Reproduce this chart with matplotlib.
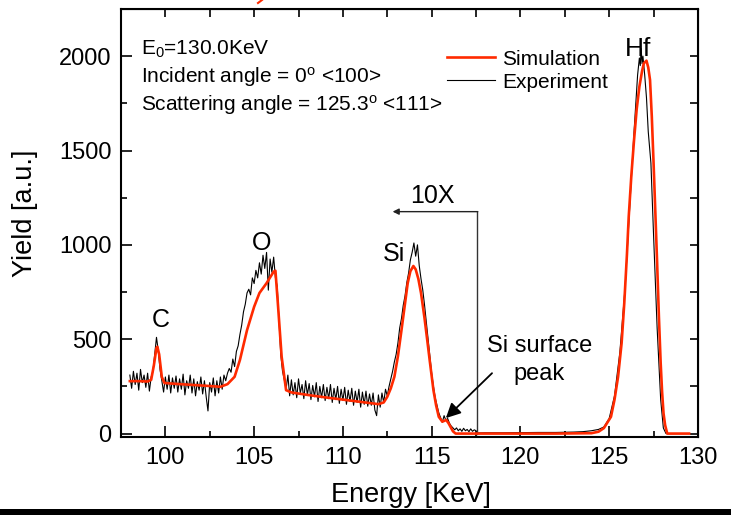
import numpy as np
import matplotlib
matplotlib.use("Agg")
import matplotlib.pyplot as plt
from matplotlib.lines import Line2D
from matplotlib.patches import Rectangle

plt.rcParams['font.family'] = ['Liberation Sans', 'DejaVu Sans']
plt.rcParams['mathtext.default'] = 'regular'

# experiment, 10X part: one channel every 0.1 keV starting at 98.0 keV
exp_start = 98.0
exp_step = 0.1
exp_low = [
    310, 240, 330, 260, 320, 230, 340, 270, 310, 245, 320, 225, 300,      # 98.0 - 99.2
    330, 420, 510, 440, 340, 280,                                        # C peak
    220, 300, 235, 310, 215, 295, 240, 305, 220, 290, 235, 315, 205, 280,
    240, 310, 215, 290, 200, 275, 230, 300, 210, 280, 195, 120, 270, 220,
    295, 200, 280, 215, 300, 235, 310, 280,                              # up to 103.4
    320, 345, 325, 395, 355, 435, 465, 525, 575, 645, 685, 745, 765, 735,
    825, 795, 865, 825, 905, 845, 945, 875, 960, 760, 925, 855, 935, 825,
    780, 600, 420, 330, 285, 235,                                        # O peak to 106.8
    310, 200, 285, 205, 270, 190, 290, 215, 260, 185, 280, 205, 265, 180,
    255, 195, 270, 170, 250, 190, 260, 175, 245, 185, 260, 165, 240, 180,
    250, 160, 235, 175, 245, 155, 230, 170, 240, 150, 225, 165, 235, 140,
    220, 155, 225, 145, 210, 150, 215, 125, 95, 205, 140, 215, 165, 235,  # to 112.4
    200, 250, 290, 330, 380, 420, 480, 560, 610, 680, 730, 800, 850, 920,
    960, 1010, 940, 1000, 890, 820, 760, 680, 590, 500, 410, 320, 250, 190,
    150, 110, 85, 60, 95, 70, 80, 55, 40, 30, 20, 30, 15, 25, 12, 28, 15,
    22, 10, 25, 12, 20, 15,                                              # to 117.5
]

# experiment, Hf part
exp_hf_e = [117.6, 118.0, 119.0, 120.0, 121.0, 122.0, 123.0, 123.5, 124.0, 124.4,
            124.7, 125.0, 125.3, 125.6, 125.9, 126.2, 126.4, 126.6, 126.7, 126.75,
            126.8, 126.85, 126.9, 127.0, 127.1, 127.2, 127.35, 127.5, 127.7, 127.9,
            128.05, 128.2, 129.5]
exp_hf_y = [3, 4, 4, 5, 6, 6, 8, 10, 15, 22,
            35, 80, 200, 430, 780, 1270, 1600, 1900, 1990, 1950,
            2040, 1960, 2000, 1900, 1780, 1600, 1433, 1050, 560, 180,
            30, 0, 0]

# simulation
sim_e = [98.0, 98.5, 99.0, 99.2, 99.35, 99.5, 99.55, 99.65, 99.8, 99.95,
         100.5, 101.5, 102.5, 103.1, 103.5, 103.9, 104.2, 104.6, 105.0, 105.3,
         105.7, 106.1, 106.2, 106.35, 106.55, 106.8, 107.1, 108.0, 109.0, 110.0,
         111.0, 112.0, 112.3, 112.5, 112.7, 112.9, 113.1, 113.3, 113.5, 113.65,
         113.8, 113.97, 114.1, 114.25, 114.4, 114.6, 114.75, 114.9, 115.1, 115.25,
         115.4, 115.6, 115.72, 115.82, 115.95, 116.06, 116.2, 116.35, 118.0, 120.0,
         122.0, 124.0, 124.4, 124.7, 125.1, 125.3, 125.5, 125.7, 125.85, 126.0,
         126.1, 126.25, 126.4, 126.55, 126.7, 126.85, 126.95, 127.1, 127.2, 127.3,
         127.4, 127.5, 127.6, 127.7, 127.8, 127.9, 127.98, 128.06, 128.15, 128.27,
         129.5]
sim_y = [278, 278, 276, 285, 360, 455, 460, 420, 300, 268,
         264, 258, 252, 248, 262, 301, 390, 548, 672, 745,
         797, 858, 863, 672, 407, 230, 218, 205, 192, 180,
         168, 156, 165, 195, 240, 301, 410, 548, 690, 797,
         860, 888, 870, 820, 745, 610, 496, 380, 230, 150,
         89, 63, 68, 72, 55, 36, 12, 0, 0, 0,
         0, 2, 10, 29, 89, 180, 301, 480, 692, 950,
         1149, 1370, 1556, 1720, 1838, 1920, 1962, 1976, 1940, 1874,
         1680, 1433, 1170, 903, 620, 373, 220, 108, 45, 0,
         0]

exp_e = list(exp_start + exp_step * np.arange(len(exp_low))) + exp_hf_e
exp_y = exp_low + exp_hf_y

fig = plt.figure(figsize=(7.31, 5.15), dpi=100)
ax = fig.add_axes([0.1655, 0.1515, 0.7893, 0.8311])

ax.plot(exp_e, exp_y, color='black', lw=0.8, label='Experiment', zorder=2)
ax.plot(sim_e, sim_y, color='#ff2a00', lw=1.9, label='Simulation', zorder=3)

ax.set_xlim(98, 130)
ax.set_ylim(-18, 2250)
ax.set_xticks([100, 105, 110, 115, 120, 125, 130])
ax.set_xticks(np.arange(97.5, 130.1, 2.5), minor=True)
ax.set_yticks([0, 500, 1000, 1500, 2000])
ax.set_yticks(np.arange(0, 2251, 250), minor=True)
ax.tick_params(which='both', direction='in', labelsize=17, width=1.2)
ax.tick_params(axis='x', which='major', length=8, pad=7)
ax.tick_params(axis='y', which='major', length=8, pad=7)
ax.tick_params(which='minor', length=4.5)
for sp in ax.spines.values():
    sp.set_linewidth(1.5)

# top and right ticks, all same length
top = ax.secondary_xaxis('top')
top.set_xticks(np.arange(100, 130, 2.5))
top.tick_params(direction='in', length=6, width=1.2, labeltop=False)
right = ax.secondary_yaxis('right')
right.set_yticks(np.arange(0, 2251, 250))
right.tick_params(direction='in', length=6, width=1.2, labelright=False)

ax.set_xlabel('Energy [KeV]', fontsize=19.5)
ax.set_ylabel('Yield [a.u.]', fontsize=19.5)
ax.xaxis.set_label_coords(0.5026, -0.105)
ax.yaxis.set_label_coords(-0.144, 0.523)

# peak labels
ax.text(99.75, 600, 'C', fontsize=18, ha='center', va='center')
ax.text(105.45, 1010, 'O', fontsize=18, ha='center', va='center')
ax.text(112.9, 950, 'Si', fontsize=18, ha='center', va='center')
ax.text(126.6, 2040, 'Hf', fontsize=19, ha='center', va='center')

# 10X bracket
ax.plot([117.55, 117.55], [0, 1176], color='#333333', lw=1.0)
ax.annotate('', xy=(112.8, 1176), xytext=(117.6, 1176),
            arrowprops=dict(arrowstyle='-|>', color='#222222', lw=1.0,
                            mutation_scale=9, shrinkA=0, shrinkB=0))
ax.text(115.05, 1258, '10X', fontsize=18, ha='center', va='center')

# Si surface peak
ax.text(121.07, 390, 'Si surface\npeak', fontsize=17, ha='center', va='center',
        linespacing=1.35)
ax.annotate('', xy=(115.8, 82), xytext=(118.4, 320),
            arrowprops=dict(arrowstyle='-|>', color='black', lw=1.3,
                            mutation_scale=22, shrinkA=0, shrinkB=0))

# info text
ax.text(0.035, 0.8925, 'E$_0$=130.0KeV', transform=ax.transAxes, fontsize=15, va='baseline')
ax.text(0.035, 0.827, 'Incident angle = 0$^o$ <100>', transform=ax.transAxes,
        fontsize=15, va='baseline')
ax.text(0.035, 0.762, 'Scattering angle = 125.3$^o$ <111>', transform=ax.transAxes,
        fontsize=15, va='baseline')

h, l = ax.get_legend_handles_labels()
ax.legend(h[::-1], l[::-1], loc='upper left', bbox_to_anchor=(0.565, 0.905),
          frameon=False, fontsize=15, handlelength=2.3, handletextpad=0.35,
          labelspacing=0.2, borderpad=0, borderaxespad=0)

# black bar at the bottom and a small red mark at the top of the scan
fig.add_artist(Rectangle((0, 0), 1, 0.011, transform=fig.transFigure,
                         facecolor='black', edgecolor='none', zorder=10))
fig.add_artist(Line2D([258 / 731, 262 / 731], [1 - 3 / 515, 1.0],
                      transform=fig.transFigure, color='#ff2a00', lw=1.5))

fig.savefig('out.png', dpi=100)
